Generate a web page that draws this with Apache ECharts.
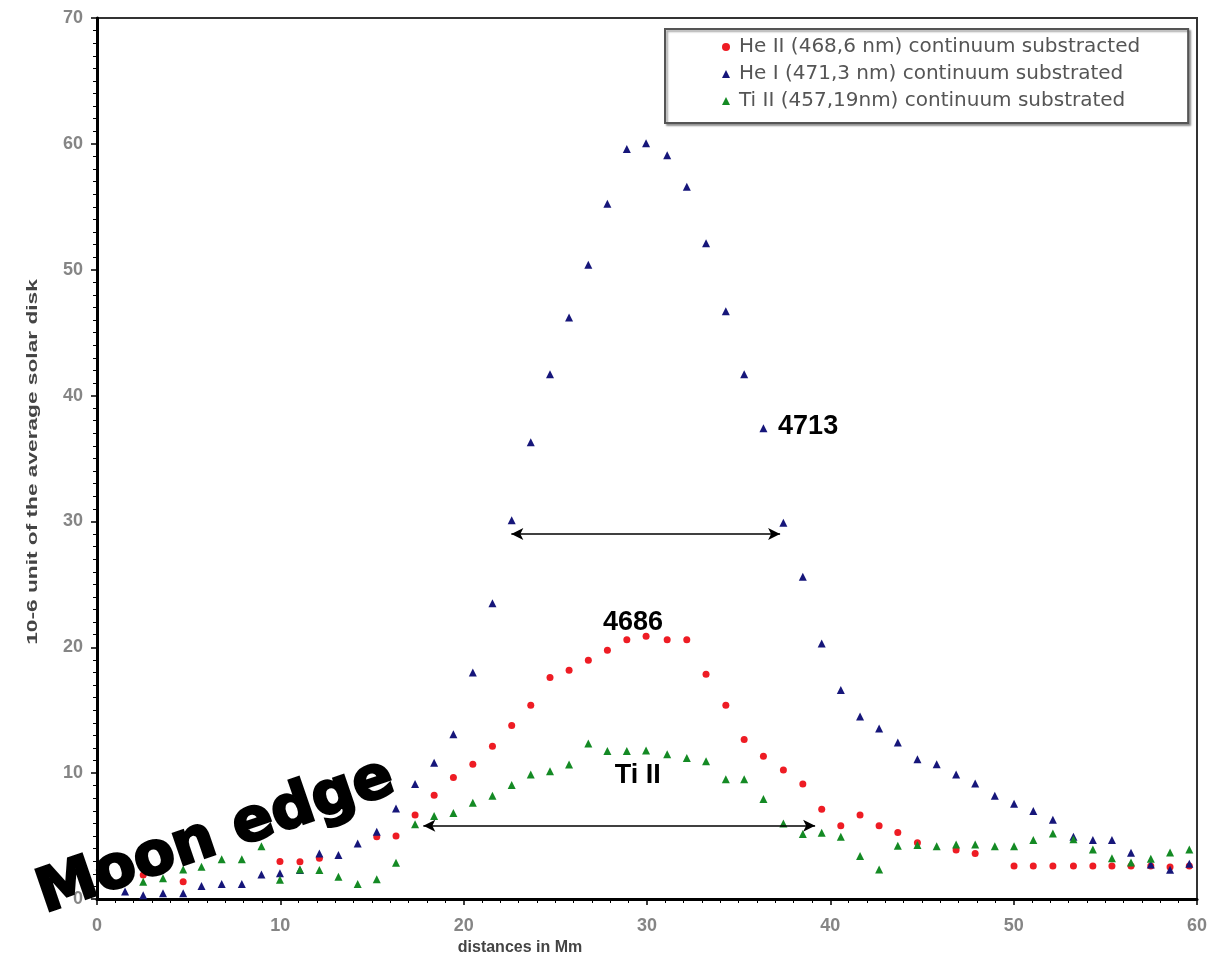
<!DOCTYPE html>
<html>
<head>
<meta charset="utf-8">
<script src="https://cdn.jsdelivr.net/npm/echarts@6/dist/echarts.min.js"></script>
<style>
html,body{margin:0;padding:0;background:#fff;}
#chart{width:1215px;height:965px;}
</style>
</head>
<body>
<div id="chart"></div>
<script>
// distances in Mm (x positions of the measured points)
const xs = [1.53, 2.52, 3.6, 4.7, 5.7, 6.8, 7.9, 8.97, 9.98, 11.07,
  12.13, 13.17, 14.22, 15.26, 16.31, 17.35, 18.39, 19.44, 20.5, 21.57,
  22.62, 23.66, 24.71, 25.75, 26.8, 27.84, 28.9, 29.95, 31.1, 32.17,
  33.22, 34.3, 35.3, 36.35, 37.44, 38.5, 39.53, 40.57, 41.62, 42.66,
  43.68, 44.75, 45.8, 46.86, 47.9, 48.97, 50.02, 51.07, 52.14, 53.26,
  54.32, 55.36, 56.4, 57.48, 58.53, 59.58];
// He II (468,6 nm) continuum substracted
const heII = [2.43, 1.9, null, 1.37, null, null, null, null, 2.98, 2.96,
  3.23, null, null, 4.95, 5.0, 6.67, 8.25, 9.66, 10.7, 12.14,
  13.78, 15.4, 17.6, 18.17, 18.97, 19.76, 20.6, 20.87, 20.6, 20.6,
  17.86, 15.4, 12.67, 11.35, 10.24, 9.13, 7.14, 5.82, 6.67, 5.82,
  5.29, 4.47, null, 3.89, 3.62, null, 2.62, 2.62, 2.62, 2.62,
  2.62, 2.62, 2.62, 2.62, 2.55, 2.62];
// He I (471,3 nm) continuum substrated
const heI = [0.6, 0.3, 0.45, 0.45, 1.03, 1.19, 1.19, 1.95, 2.05, 2.3,
  3.62, 3.49, 4.4, 5.34, 7.2, 9.13, 10.82, 13.1, 18.0, 23.5,
  30.1, 36.3, 41.7, 46.2, 50.4, 55.25, 59.6, 60.05, 59.1, 56.6,
  52.1, 46.7, 41.7, 37.4, 29.9, 25.6, 20.3, 16.6, 14.5, 13.55,
  12.44, 11.1, 10.7, 9.9, 9.17, 8.2, 7.56, 7.0, 6.3, 4.95,
  4.68, 4.68, 3.68, 2.74, 2.33, 2.8];
// Ti II (457,19nm) continuum substrated
const tiII = [1.7, 1.37, 1.64, 2.35, 2.56, 3.15, 3.15, 4.2, 1.53, 2.35,
  2.3, 1.77, 1.2, 1.56, 2.88, 5.93, 6.59, 6.84, 7.64, 8.2,
  9.05, 9.9, 10.16, 10.69, 12.36, 11.75, 11.75, 11.8, 11.5, 11.2,
  10.95, 9.52, 9.52, 7.94, 6.0, 5.16, 5.26, 4.95, 3.41, 2.35,
  4.23, 4.29, 4.2, 4.34, 4.34, 4.2, 4.2, 4.68, 5.21, 4.74,
  3.94, 3.23, 2.9, 3.2, 3.7, 3.94];

const seriesNames = ['He II (468,6 nm) continuum substracted',
  'He I (471,3 nm) continuum substrated',
  'Ti II (457,19nm) continuum substrated'];

function pairs(vals) {
  const out = [];
  xs.forEach((x, i) => { if (vals[i] != null) out.push([x, vals[i]]); });
  return out;
}

const chart = echarts.init(document.getElementById('chart'), null, {renderer: 'canvas'});

const tickFont = {color: '#858585', fontFamily: 'Liberation Sans', fontWeight: 'bold', fontSize: 18};
const annoFont = {color: '#000', opacity: 1, fontFamily: 'Liberation Sans', fontWeight: 'bold', fontSize: 27};

const option = {
  animation: false,
  backgroundColor: '#fff',
  grid: {left: 97, right: 18, top: 18, bottom: 66, show: true, borderColor: '#333', borderWidth: 2, backgroundColor: 'transparent'},
  legend: {
    orient: 'vertical', left: 665, top: 29,
    data: seriesNames,
    padding: [8, 48, 12, 57],
    itemGap: 7,
    itemWidth: 8, itemHeight: 8,
    backgroundColor: '#fff',
    borderColor: '#555', borderWidth: 2,
    shadowColor: 'rgba(0,0,0,0.35)', shadowBlur: 2, shadowOffsetX: 2, shadowOffsetY: 2,
    textStyle: {fontFamily: 'DejaVu Sans', fontSize: 20, color: '#555', padding: [0, 0, 0, 4]}
  },
  xAxis: {
    type: 'value', min: 0, max: 60, interval: 10,
    axisLine: {show: true, onZero: false, lineStyle: {color: '#000', width: 3}},
    axisTick: {show: true, length: 6, lineStyle: {color: '#000', width: 1.5}},
    minorTick: {show: true, splitNumber: 10, length: 4, lineStyle: {color: '#000', width: 1}},
    splitLine: {show: false},
    axisLabel: Object.assign({margin: 18}, tickFont)
  },
  yAxis: {
    type: 'value', min: 0, max: 70, interval: 10,
    axisLine: {show: true, onZero: false, lineStyle: {color: '#000', width: 3}},
    axisTick: {show: true, length: 6, lineStyle: {color: '#000', width: 1.5}},
    minorTick: {show: true, splitNumber: 10, length: 4, lineStyle: {color: '#000', width: 1}},
    splitLine: {show: false},
    axisLabel: Object.assign({margin: 14}, tickFont)
  },
  graphic: [
    {type: 'text', x: 33, y: 462, rotation: Math.PI / 2, scaleX: 1.62, z: 100,
     style: {text: '10-6 unit of the average solar disk', font: 'bold 14px "Liberation Sans"', fill: '#444', align: 'center', verticalAlign: 'middle'}},
    {type: 'text', x: 520, y: 948, z: 100,
     style: {text: 'distances in Mm', font: 'bold 16px "Liberation Sans"', fill: '#444', align: 'center', verticalAlign: 'middle'}}
  ],
  series: [
    {name: seriesNames[0], type: 'scatter', symbol: 'circle', symbolSize: 7,
     itemStyle: {color: '#ee1c24', opacity: 1}, data: pairs(heII), z: 2},
    {name: seriesNames[1], type: 'scatter', symbol: 'triangle', symbolSize: 8,
     itemStyle: {color: '#16167a', opacity: 1}, data: pairs(heI), z: 3},
    {name: seriesNames[2], type: 'scatter', symbol: 'triangle', symbolSize: 8,
     itemStyle: {color: '#148a24', opacity: 1}, data: pairs(tiII), z: 4},
    {name: 'annotations', type: 'scatter', symbolSize: 0, z: 10, silent: true,
     itemStyle: {color: 'transparent', opacity: 1},
     label: {show: true},
     data: [
       {value: [37.15, 37.5], label: Object.assign({show: true, position: 'right', distance: 0, formatter: '4713'}, annoFont)},
       {value: [29.24, 22.0], label: Object.assign({show: true, position: 'inside', formatter: '4686'}, annoFont)},
       {value: [29.5, 9.84], label: Object.assign({show: true, position: 'inside', formatter: 'Ti II'}, annoFont)},
       {value: [6.49, 4.9], label: {show: true, position: 'inside', formatter: 'Moon edge', rotate: 19,
         color: '#000', opacity: 1, fontFamily: 'DejaVu Sans', fontWeight: 'bold', fontSize: 60,
         textBorderColor: '#000', textBorderWidth: 2.5}}
     ],
     markLine: {
       silent: true, symbol: ['arrow', 'arrow'], symbolSize: [9, 12],
       lineStyle: {color: '#000', width: 1.5, type: 'solid', opacity: 1},
       label: {show: false},
       data: [
         [{coord: [22.6, 29.0]}, {coord: [37.26, 29.0]}],
         [{coord: [17.8, 5.82]}, {coord: [39.17, 5.82]}]
       ]
     }}
  ]
};
chart.setOption(option);
</script>
</body>
</html>
